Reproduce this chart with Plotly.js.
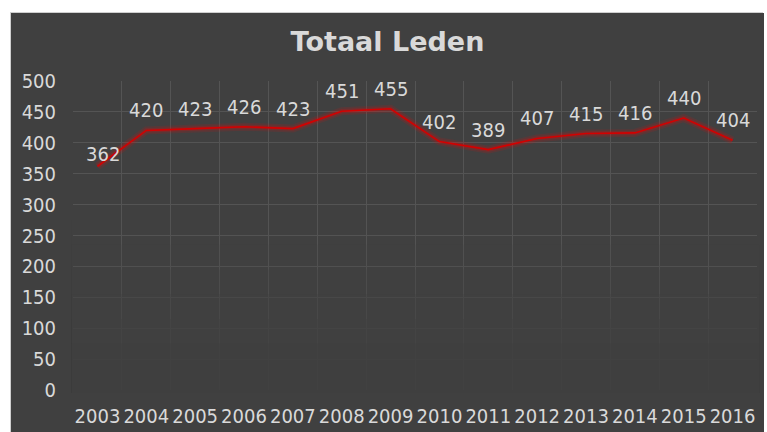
<!DOCTYPE html>
<html>
<head>
<meta charset="utf-8">
<script src="https://cdn.plot.ly/plotly-3.0.1.min.js"></script>
<style>
  html, body { margin: 0; padding: 0; background: #ffffff; width: 767px; height: 432px; overflow: hidden; }
  #chart { position: absolute; left: 10px; top: 12px; width: 753px; height: 420px; border: 1px solid #cfcfcf; border-bottom: none; box-sizing: border-box; }
</style>
</head>
<body>
<div id="chart"></div>
<script>
const years = ['2003','2004','2005','2006','2007','2008','2009','2010','2011','2012','2013','2014','2015','2016'];
const members = [362, 420, 423, 426, 423, 451, 455, 402, 389, 407, 415, 416, 440, 404];
const yTicks = [0, 50, 100, 150, 200, 250, 300, 350, 400, 450, 500];
const chartTitle = 'Totaal Leden';

const fontFam = '"DejaVu Sans Condensed", "Liberation Sans Narrow", Roboto, sans-serif';
const txtColor = '#d9d9d9';

const glow = {
  x: years, y: members, type: 'scatter', mode: 'lines',
  line: { color: 'rgba(255,0,0,0.12)', width: 8 },
  hoverinfo: 'skip', showlegend: false
};
const glow2 = {
  x: years, y: members, type: 'scatter', mode: 'lines',
  line: { color: 'rgba(255,0,0,0.18)', width: 4.5 },
  hoverinfo: 'skip', showlegend: false
};
const line = {
  x: years, y: members, type: 'scatter', mode: 'lines',
  line: { color: '#d40000', width: 1.6 },
  showlegend: false
};

// annotations placed by category index on the category axis
const annotations = years.map((yr, i) => ({
  x: i, y: members[i], xref: 'x', yref: 'y',
  text: String(members[i]), showarrow: false,
  yshift: i === 0 ? 12 : 20, xshift: i === 0 ? 6 : 0,
  font: { family: fontFam, size: 20, color: txtColor }
}));

// fade of gridlines toward the bottom (region is well below the data line)
const fades = [0.06, 0.14, 0.22, 0.32, 0.45, 0.6];
const shapes = fades.map((a, i) => ({
  type: 'rect', xref: 'paper', yref: 'paper', layer: 'above',
  x0: -0.002, x1: 1.003, y0: -0.01, y1: 0.55 - i * 0.08,
  fillcolor: 'rgba(64,64,64,' + a + ')', line: { width: 0 }
}));

const layout = {
  width: 753, height: 420,
  paper_bgcolor: '#404040', plot_bgcolor: '#404040',
  margin: { l: 62, r: 7, t: 68, b: 43 },
  title: {
    text: '<b>' + chartTitle + '</b>',
    x: 0.5, xref: 'container', xanchor: 'center',
    y: 0.933, yref: 'container', yanchor: 'middle',
    font: { family: '"DejaVu Sans", "Open Sans", sans-serif', size: 27, color: txtColor }
  },
  xaxis: {
    type: 'category', tickson: 'boundaries', ticks: '',
    range: [-0.5, years.length - 0.5], autorange: false,
    showgrid: true, gridcolor: '#545454', gridwidth: 1,
    showline: false, zeroline: false, tickangle: 0,
    tickfont: { family: fontFam, size: 20, color: txtColor },
    ticklabelstandoff: 12, fixedrange: true
  },
  yaxis: {
    range: [0, 500], autorange: false, tickvals: yTicks, ticktext: yTicks.map(String), ticks: '',
    showgrid: true, gridcolor: '#545454', gridwidth: 1,
    showline: false, zeroline: false,
    tickfont: { family: fontFam, size: 20, color: txtColor },
    ticklabelstandoff: 16, fixedrange: true
  },
  annotations: annotations,
  shapes: shapes,
  showlegend: false
};

Plotly.newPlot('chart', [glow, glow2, line], layout, { staticPlot: true, displayModeBar: false });
</script>
</body>
</html>
